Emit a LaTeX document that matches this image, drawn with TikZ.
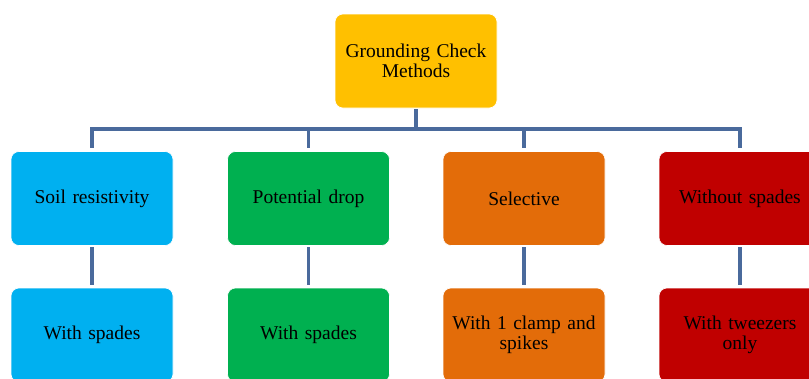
\documentclass[tikz,border=0pt]{standalone}
\usepackage{fontspec}
\setmainfont{Liberation Serif}
\definecolor{cyellow}{HTML}{FFC000}
\definecolor{cblue}{HTML}{00B0F0}
\definecolor{cgreen}{HTML}{00B050}
\definecolor{corange}{HTML}{E36C09}
\definecolor{cred}{HTML}{C00000}
\definecolor{cline}{HTML}{4A6A9C}
\begin{document}
\begin{tikzpicture}[x=1pt,y=-1pt,
  box/.style={draw=white, line width=0.6pt, rounded corners=8pt, minimum width=162pt, minimum height=94pt,
    text width=150pt, align=center, inner sep=0pt, font=\fontsize{19.5}{20.5}\selectfont, text=black},
  conn/.style={draw=cline, line width=3.6pt, shorten >=3pt}]
\useasboundingbox (0,0) rectangle (809,378);
\clip (0,0) rectangle (809,378);
\node[box, fill=cyellow] (top) at (416,61) {Grounding Check\\Methods};
\node[box, fill=cblue] (a1) at (92,198.5) {Soil resistivity};
\node[box, fill=cgreen] (a2) at (308.5,198.5) {Potential drop};
\node[box, fill=corange] (a3) at (524,198.5) {Selective};
\node[box, fill=cred] (a4) at (740,198.5) {Without spades};
\node[box, fill=cblue] (b1) at (92,335) {With spades};
\node[box, fill=cgreen] (b2) at (308.5,335) {With spades};
\node[box, fill=corange] (b3) at (524,335) {With 1 clamp and\\spikes};
\node[box, fill=cred] (b4) at (740,335) {With tweezers\\only};
\coordinate (bus) at (416,129);
\foreach \c in {a1,a2,a3,a4}{
  \draw[conn, shorten <=1pt] (top.south) -- (bus) -| (\c.north);
}
\foreach \i in {1,2,3,4}{
  \draw[conn, shorten <=1.5pt] (a\i.south) -- (b\i.north);
}
\end{tikzpicture}
\end{document}
